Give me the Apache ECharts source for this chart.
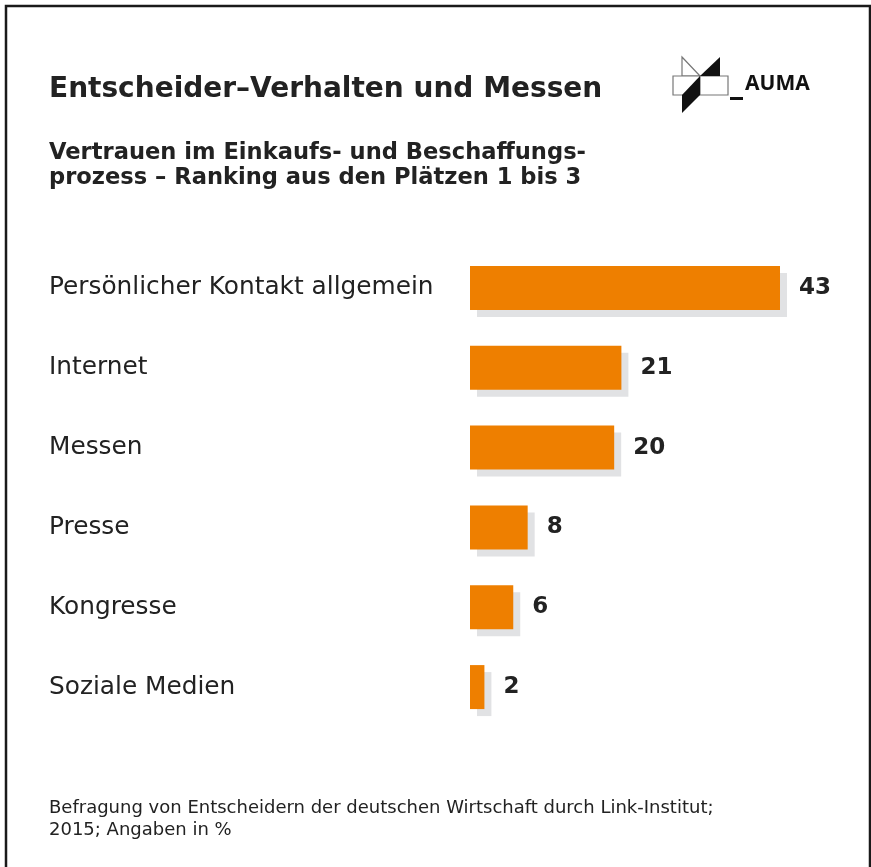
<!DOCTYPE html>
<html>
<head>
<meta charset="utf-8">
<script src="https://cdn.jsdelivr.net/npm/echarts@6/dist/echarts.min.js"></script>
<style>
  html, body { margin: 0; padding: 0; background: #fff; }
  #chart { width: 871px; height: 867px; }
</style>
</head>
<body>
<div id="chart"></div>
<script>
// Daten
const categories = ['Persönlicher Kontakt allgemein', 'Internet', 'Messen', 'Presse', 'Kongresse', 'Soziale Medien'];
const values = [43, 21, 20, 8, 6, 2];

const fontFamily = '"DejaVu Sans", "Noto Sans", sans-serif';
const dark = '#222';

let chart = echarts.init(document.getElementById('chart'));

chart.setOption({
  backgroundColor: '#fff',
  title: [
    {
      text: 'Entscheider–Verhalten und Messen',
      left: 49, top: 76, padding: 0,
      textStyle: { fontFamily: fontFamily, fontSize: 28, fontWeight: 'bold', color: dark }
    },
    {
      text: 'Vertrauen im Einkaufs- und Beschaffungs-\nprozess – Ranking aus den Plätzen 1 bis 3',
      left: 49, top: 141, padding: 0,
      textStyle: { fontFamily: fontFamily, fontSize: 22.6, fontWeight: 'bold', color: dark, lineHeight: 25 }
    },
    {
      text: 'Befragung von Entscheidern der deutschen Wirtschaft durch Link-Institut;\n2015; Angaben in %',
      left: 49, top: 797, padding: 0,
      textStyle: { fontFamily: fontFamily, fontSize: 18, fontWeight: 'normal', color: dark, lineHeight: 22 }
    }
  ],
  grid: { left: 470, right: 91, top: 248, bottom: 140 },
  xAxis: {
    type: 'value',
    min: 0,
    max: 43,
    show: false
  },
  yAxis: {
    type: 'category',
    data: categories,
    inverse: true,
    axisLine: { show: false },
    axisTick: { show: false },
    splitLine: { show: false },
    axisLabel: {
      align: 'left',
      margin: 421,
      fontFamily: fontFamily,
      fontSize: 24.8,
      color: dark
    }
  },
  series: [{
    type: 'bar',
    data: values,
    barWidth: 44,
    itemStyle: {
      color: '#EE7F00',
      shadowColor: '#e1e2e4',
      shadowBlur: 0,
      shadowOffsetX: 7,
      shadowOffsetY: 7
    },
    label: {
      show: true,
      position: 'right',
      distance: 19,
      fontFamily: fontFamily,
      fontSize: 23,
      fontWeight: 'bold',
      color: dark
    }
  }],
  graphic: [
    // Rahmen
    { type: 'rect', shape: { x: 6, y: 6, width: 864, height: 900 }, style: { fill: 'none', stroke: '#1a1a1a', lineWidth: 2.5 }, silent: true },
    // AUMA Logo
    { type: 'polygon', shape: { points: [[682, 57], [700, 76], [682, 76]] }, style: { fill: '#fff', stroke: '#777', lineWidth: 1.2 } },
    { type: 'rect', shape: { x: 673, y: 76, width: 55, height: 19 }, style: { fill: '#fff', stroke: '#777', lineWidth: 1.2 } },
    { type: 'line', shape: { x1: 700, y1: 76, x2: 700, y2: 95 }, style: { stroke: '#777', lineWidth: 1.2 } },
    { type: 'polygon', shape: { points: [[700, 76], [720, 57], [720, 76]] }, style: { fill: '#111' } },
    { type: 'polygon', shape: { points: [[700, 76], [700, 95], [682, 113], [682, 95]] }, style: { fill: '#111' } },
    { type: 'rect', shape: { x: 730, y: 97, width: 13, height: 3 }, style: { fill: '#111' } },
    {
      type: 'text', x: 745, y: 95,
      style: { text: 'AUMA', fill: '#111', font: 'bold 21px "Noto Sans", sans-serif', textVerticalAlign: 'bottom' }
    }
  ]
});
</script>
</body>
</html>
